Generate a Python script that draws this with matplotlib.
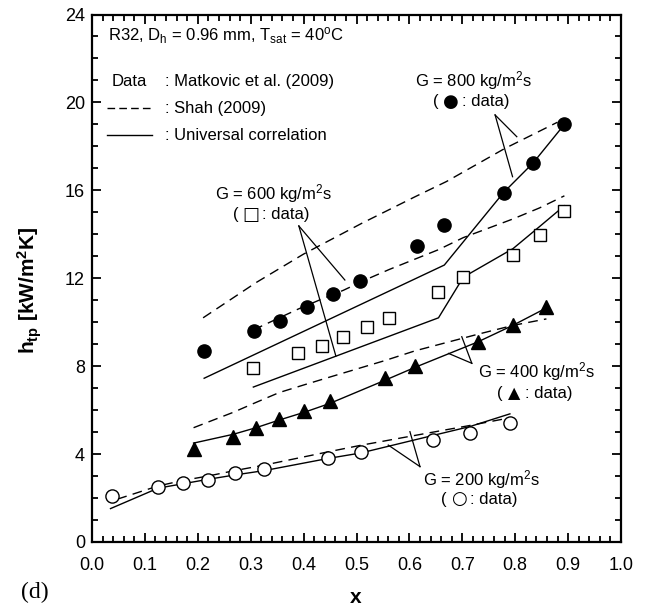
import matplotlib
matplotlib.use("Agg")
import matplotlib.pyplot as plt
from matplotlib.ticker import MultipleLocator

plt.rcParams['font.family'] = ['Liberation Sans', 'DejaVu Sans']
plt.rcParams['mathtext.fontset'] = 'custom'
plt.rcParams['mathtext.rm'] = 'Liberation Sans'
plt.rcParams['mathtext.it'] = 'Liberation Sans:italic'
plt.rcParams['mathtext.bf'] = 'Liberation Sans:bold'

# G = 200 kg/m2s
x200 = [0.038, 0.125, 0.172, 0.219, 0.270, 0.326, 0.446, 0.508, 0.645, 0.714, 0.790]
h200 = [2.08, 2.48, 2.68, 2.83, 3.13, 3.31, 3.80, 4.08, 4.66, 4.98, 5.43]
xs200_uni = [0.035, 0.125, 0.172, 0.219, 0.270, 0.326, 0.446, 0.508, 0.645, 0.714, 0.790]
hs200_uni = [1.52, 2.45, 2.65, 2.85, 3.05, 3.25, 3.80, 4.05, 4.85, 5.25, 5.83]
xs200_shah = [0.048, 0.125, 0.172, 0.219, 0.270, 0.326, 0.446, 0.508, 0.645, 0.714, 0.790]
hs200_shah = [1.95, 2.55, 2.80, 3.00, 3.25, 3.50, 4.10, 4.40, 5.00, 5.30, 5.65]

# G = 400 kg/m2s
x400 = [0.192, 0.267, 0.310, 0.354, 0.401, 0.449, 0.553, 0.611, 0.729, 0.795, 0.859]
h400 = [4.21, 4.80, 5.18, 5.60, 5.97, 6.43, 7.45, 8.03, 9.11, 9.87, 10.68]
hs400_uni = [4.50, 4.90, 5.20, 5.55, 5.90, 6.30, 7.35, 7.95, 9.10, 9.85, 10.65]
hs400_shah = [5.20, 5.90, 6.35, 6.80, 7.15, 7.50, 8.25, 8.70, 9.45, 9.85, 10.15]

# G = 600 kg/m2s
x600 = [0.305, 0.390, 0.434, 0.475, 0.519, 0.562, 0.655, 0.702, 0.796, 0.846, 0.893]
h600 = [7.90, 8.58, 8.93, 9.34, 9.80, 10.21, 11.39, 12.04, 13.06, 13.98, 15.07]
xs600_uni = [0.305, 0.655, 0.702, 0.796, 0.846, 0.893]
hs600_uni = [7.05, 10.20, 12.05, 13.35, 14.35, 15.30]
hs600_shah = [9.65, 10.60, 11.05, 11.45, 11.95, 12.40, 13.30, 13.85, 14.70, 15.20, 15.75]

# G = 800 kg/m2s
x800 = [0.212, 0.307, 0.355, 0.407, 0.456, 0.507, 0.614, 0.666, 0.778, 0.834, 0.893]
h800 = [8.69, 9.61, 10.05, 10.71, 11.28, 11.87, 13.48, 14.41, 15.89, 17.26, 19.00]
xs800_uni = [0.212, 0.666, 0.778, 0.834, 0.893]
hs800_uni = [7.45, 12.60, 15.90, 17.25, 19.00]
xs800_shah = [0.21, 0.31, 0.40, 0.51, 0.61, 0.67, 0.78, 0.83, 0.88]
hs800_shah = [10.2, 11.8, 13.1, 14.5, 15.7, 16.4, 17.9, 18.5, 19.1]

fig = plt.figure(figsize=(6.48, 6.10), dpi=100)
ax = fig.add_axes([92/648, 68/610, 529/648, 527.5/610])

dash = (0, (7, 4.5))
lw = 1.0
for xs, hs in [(xs200_uni, hs200_uni), (x400, hs400_uni), (xs600_uni, hs600_uni), (xs800_uni, hs800_uni)]:
    ax.plot(xs, hs, color='black', lw=lw)
for xs, hs in [(xs200_shah, hs200_shah), (x400, hs400_shah), (x600, hs600_shah), (xs800_shah, hs800_shah)]:
    ax.plot(xs, hs, color='black', lw=lw, linestyle=dash)

ax.plot(x200, h200, 'o', ms=9.5, mfc='white', mec='black', mew=1.0, zorder=5)
ax.plot(x400, h400, '^', ms=9.5, mfc='black', mec='black', zorder=5)
ax.plot(x600, h600, 's', ms=8.5, mfc='white', mec='black', mew=1.0, zorder=5)
ax.plot(x800, h800, 'o', ms=9.5, mfc='black', mec='black', zorder=5)

ax.set_xlim(0, 1.0)
ax.set_ylim(0, 24)
ax.xaxis.set_major_locator(MultipleLocator(0.1))
ax.xaxis.set_minor_locator(MultipleLocator(0.02))
ax.yaxis.set_major_locator(MultipleLocator(4))
ax.yaxis.set_minor_locator(MultipleLocator(1))
ax.xaxis.set_major_formatter(plt.FormatStrFormatter('%.1f'))
ax.tick_params(which='both', direction='in', top=True, right=True, width=1.3)
ax.tick_params(which='major', length=6.5)
ax.tick_params(which='minor', length=4)
ax.tick_params(axis='x', labelsize=13, pad=11)
ax.tick_params(axis='y', labelsize=13, pad=5)
for s in ax.spines.values():
    s.set_linewidth(1.6)

fs = 12
ax.text(0.03, 23.05, r'R32, D$_\mathrm{h}$ = 0.96 mm, T$_\mathrm{sat}$ = 40$^\mathrm{o}$C',
        fontsize=fs, va='center')
ax.text(0.037, 20.93, 'Data', fontsize=fs, va='center')
ax.text(0.138, 20.93, ': Matkovic et al. (2009)', fontsize=fs, va='center')
ax.plot([0.028, 0.113], [19.74, 19.74], color='black', lw=lw, linestyle=(0, (5.5, 3)))
ax.text(0.138, 19.74, ': Shah (2009)', fontsize=fs, va='center')
ax.plot([0.028, 0.113], [18.5, 18.5], color='black', lw=lw)
ax.text(0.138, 18.5, ': Universal correlation', fontsize=fs, va='center')

labels = [
    (0.721, 21.0, 20.03, '800', '\u25CF', 13, (0.762, 19.43), [(0.803, 18.44), (0.795, 16.62)]),
    (0.343, 15.86, 14.88, '600', '\u25A1', 13, (0.391, 14.38), [(0.478, 11.92), (0.461, 8.46)]),
    (0.841, 7.75, 6.77, '400', '\u25B2', 11.5, (0.718, 8.13), [(0.699, 9.34), (0.674, 8.58)]),
    (0.736, 2.83, 1.95, '200', '\u25CB', 13, (0.62, 3.43), [(0.601, 5.02), (0.56, 4.41)]),
]
for lx, ly1, ly2, g, sym, sfs, apex, ends in labels:
    ax.text(lx, ly1, 'G = ' + g + r' kg/m$^\mathrm{2}$s', fontsize=fs, ha='center', va='center')
    ax.annotate('(', (lx, ly2), xytext=(-25, 0), textcoords='offset points',
                fontsize=fs, ha='right', va='center')
    ax.annotate(sym, (lx, ly2), xytext=(-16.5, 0), textcoords='offset points',
                fontsize=sfs, family='DejaVu Sans', ha='center', va='center')
    ax.annotate(': data)', (lx, ly2), xytext=(-8.5, 0), textcoords='offset points',
                fontsize=fs, ha='left', va='center')
    for ex, ey in ends:
        ax.plot([apex[0], ex], [apex[1], ey], color='black', lw=0.9)

fig.text(30/648, 0.525, r'h$_\mathbf{tp}$ [kW/m$^\mathbf{2}$K]', rotation=90, fontsize=15,
         fontweight='bold', ha='center', va='center')
fig.text(0.549, 0.02, 'x', fontsize=15, fontweight='bold', ha='center', va='center')
fig.text(0.054, 0.028, '(d)', fontsize=17, family='Liberation Serif', ha='center', va='center')

fig.savefig('out.png', dpi=100)
